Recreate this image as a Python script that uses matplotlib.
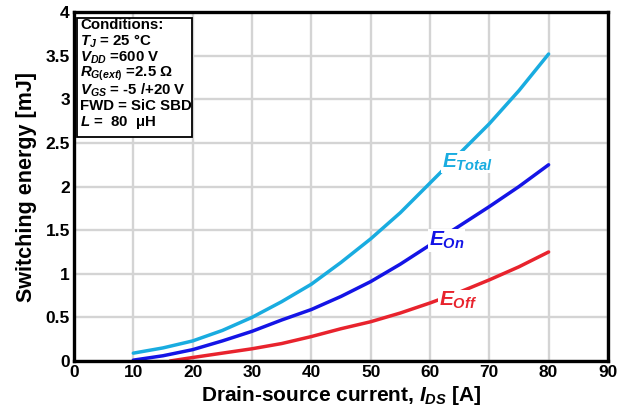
import matplotlib
matplotlib.use("Agg")
import matplotlib.pyplot as plt
from matplotlib.patches import Rectangle

plt.rcParams.update({
    "font.family": ["Liberation Sans", "DejaVu Sans"],
    "font.weight": "bold",
    "axes.labelweight": "bold",
    "mathtext.fontset": "custom",
    "mathtext.rm": "Liberation Sans:bold",
    "mathtext.it": "Liberation Sans:bold:italic",
    "mathtext.bf": "Liberation Sans:bold",
})

# Data
i_ds = [10, 15, 20, 25, 30, 35, 40, 45, 50, 55, 60, 65, 70, 75, 80]
e_total = [0.09, 0.15, 0.23, 0.35, 0.50, 0.68, 0.88, 1.13, 1.40, 1.70, 2.04, 2.38, 2.72, 3.10, 3.52]
e_on = [0.01, 0.06, 0.13, 0.23, 0.34, 0.47, 0.59, 0.74, 0.91, 1.11, 1.33, 1.55, 1.77, 2.00, 2.25]
i_off = [16.2, 20, 25, 30, 35, 40, 45, 50, 55, 60, 65, 70, 75, 80]
e_off = [0.0, 0.04, 0.09, 0.14, 0.20, 0.28, 0.37, 0.45, 0.55, 0.665, 0.79, 0.93, 1.08, 1.25]

x_ticks = [0, 10, 20, 30, 40, 50, 60, 70, 80, 90]
y_ticks = [0, 0.5, 1, 1.5, 2, 2.5, 3, 3.5, 4]
y_tick_labels = ["0", "0.5", "1", "1.5", "2", "2.5", "3", "3.5", "4"]

conditions = [
    "Conditions:",
    r"$T_{J}$ = 25 °C",
    r"$V_{DD}$ =600 V",
    r"$R_{G(ext)}$ =2.5 Ω",
    r"$V_{GS}$ = -5 /+20 V",
    "FWD = SiC SBD",
    r"$L$ =  80  μH",
]

c_total = "#19ACE0"
c_on = "#1414E6"
c_off = "#E8232D"

fig = plt.figure(figsize=(6.18, 4.08), dpi=100)
ax = fig.add_axes([0.1197, 0.1152, 0.864, 0.855])

ax.plot(i_ds, e_total, color=c_total, lw=2.5, solid_capstyle="round", zorder=3)
ax.plot(i_ds, e_on, color=c_on, lw=2.5, solid_capstyle="round", zorder=3)
ax.plot(i_off, e_off, color=c_off, lw=2.5, solid_capstyle="round", zorder=3)

bb = dict(facecolor="white", edgecolor="none", pad=0.5)
ax.text(62.0, 2.28, r"$E_{Total}$", color=c_total, fontsize=15, va="center", ha="left",
        bbox=bb, zorder=4)
ax.text(59.8, 1.38, r"$E_{On}$", color=c_on, fontsize=15, va="center", ha="left",
        bbox=bb, zorder=4)
ax.text(61.5, 0.69, r"$E_{Off}$", color=c_off, fontsize=15, va="center", ha="left",
        bbox=bb, zorder=4)

ax.set_xlim(0, 90)
ax.set_ylim(0, 4)
ax.set_xticks(x_ticks)
ax.set_yticks(y_ticks)
ax.set_yticklabels(y_tick_labels)
ax.tick_params(length=0, labelsize=12.5, pad=3)
for lab in ax.get_xticklabels() + ax.get_yticklabels():
    lab.set_fontweight("bold")
ax.set_axisbelow(True)
ax.grid(True, color="#D4D4D4", lw=1.7)
for s in ax.spines.values():
    s.set_linewidth(2.4)
    s.set_color("black")
    s.set_zorder(5)

ax.set_xlabel(r"Drain-source current, $I_{DS}$ [A]", fontsize=15, labelpad=3)
ax.set_ylabel("Switching energy [mJ]", fontsize=15.5, labelpad=6)

box = Rectangle((0.006, 0.642), 0.215, 0.341, transform=ax.transAxes,
                facecolor="white", edgecolor="black", lw=1.3, zorder=6)
ax.add_patch(box)
y0 = 0.963
for k, line in enumerate(conditions):
    ax.text(0.012, y0 - k * 0.0465, line, transform=ax.transAxes, fontsize=10.8,
            va="center", ha="left", zorder=7)

fig.savefig("out.png", dpi=100)
